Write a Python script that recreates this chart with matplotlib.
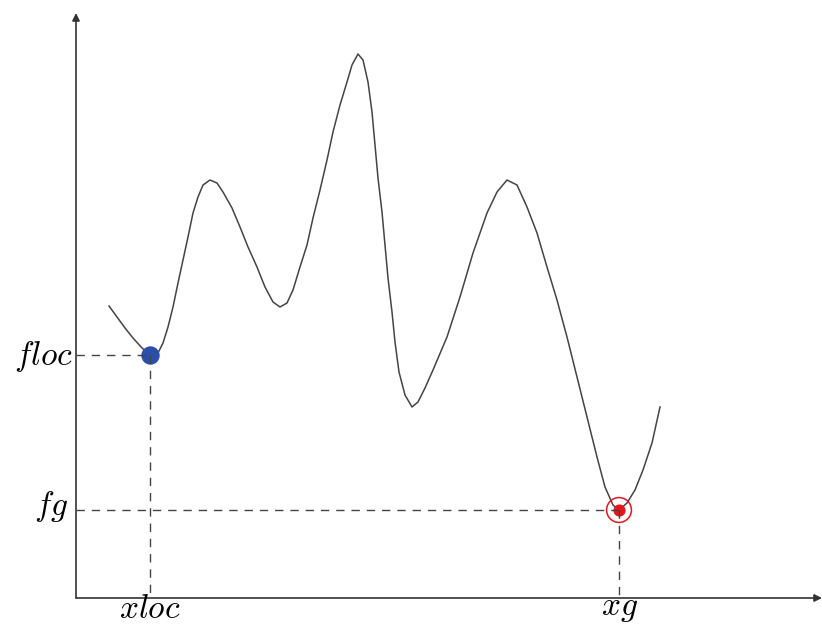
import numpy as np
import matplotlib
matplotlib.use("Agg")
import matplotlib.pyplot as plt

plt.rcParams["mathtext.fontset"] = "cm"

# curve (x to the right of the y axis, y above the x axis)
curve_x = np.array([33, 41, 49, 57, 66, 74, 82, 87, 92, 97, 102, 107, 112, 117, 122,
                    127, 134, 141, 147, 156, 164, 172, 181, 189, 197, 204, 211, 217,
                    224, 231, 237, 244, 251, 257, 264, 271, 276, 282, 287, 292, 296,
                    299, 302, 306, 309, 312, 316, 319, 323, 329, 336, 342, 349, 357,
                    371, 384, 397, 411, 421, 431, 441, 451, 461, 471, 481, 491, 501,
                    511, 521, 529, 537, 543, 551, 559, 567, 576, 584])
curve_y = np.array([292, 281, 270, 260, 250, 243, 245, 255, 271, 291, 315, 338, 361, 385,
                    401, 413, 418, 415, 406, 390, 371, 351, 331, 311, 296, 291, 295, 308,
                    331, 353, 380, 408, 438, 466, 493, 516, 533, 544, 538, 516, 486,
                    453, 420, 386, 353, 320, 286, 256, 226, 203, 191, 196, 210, 228,
                    261, 301, 345, 385, 406, 418, 413, 391, 365, 331, 298, 261, 221,
                    181, 141, 111, 93, 88, 95, 108, 128, 155, 191])

x_loc, f_loc = 74, 243
x_g, f_g = 543, 88

fig = plt.figure(figsize=(8.22, 6.27), dpi=100)
ax = fig.add_axes([0, 0, 1, 1])
ax.set_xlim(-76, 746)
ax.set_ylim(-29, 598)
ax.axis("off")

axis_col = "#333333"
ax.annotate("", xy=(746, 0), xytext=(0, 0),
            arrowprops=dict(arrowstyle="-|>", color=axis_col, lw=1.2,
                            mutation_scale=11, shrinkA=0, shrinkB=0))
ax.annotate("", xy=(0, 585), xytext=(0, 0),
            arrowprops=dict(arrowstyle="-|>", color=axis_col, lw=1.2,
                            mutation_scale=11, shrinkA=0, shrinkB=0))

ax.plot(curve_x, curve_y, color="#444444", lw=1.1, zorder=3,
        solid_joinstyle="round")

# local minimum
ax.scatter([x_loc], [f_loc], s=150, color="#2b4ea8", zorder=4)
# global minimum
ax.scatter([x_g], [f_g], s=60, color="#e8141c", zorder=4)
ax.scatter([x_g], [f_g], s=320, facecolors="none", edgecolors="#e8141c", lw=1.1, zorder=4)

dash = dict(color="#444444", lw=1.0, dashes=(6, 5), zorder=5)
ax.plot([0, x_loc], [f_loc, f_loc], **dash)
ax.plot([x_loc, x_loc], [f_loc, 3], **dash)
ax.plot([0, x_g], [f_g, f_g], **dash)
ax.plot([x_g, x_g], [f_g, 3], **dash)

fs = 24
ax.text(-3, 233, r"$floc$", fontsize=fs, ha="right", va="baseline")
ax.text(-8, 83, r"$fg$", fontsize=fs, ha="right", va="baseline")
ax.text(x_loc, -20, r"$xloc$", fontsize=fs, ha="center", va="baseline")
ax.text(x_g, -17, r"$xg$", fontsize=fs, ha="center", va="baseline")

fig.savefig("out.png", dpi=100)
